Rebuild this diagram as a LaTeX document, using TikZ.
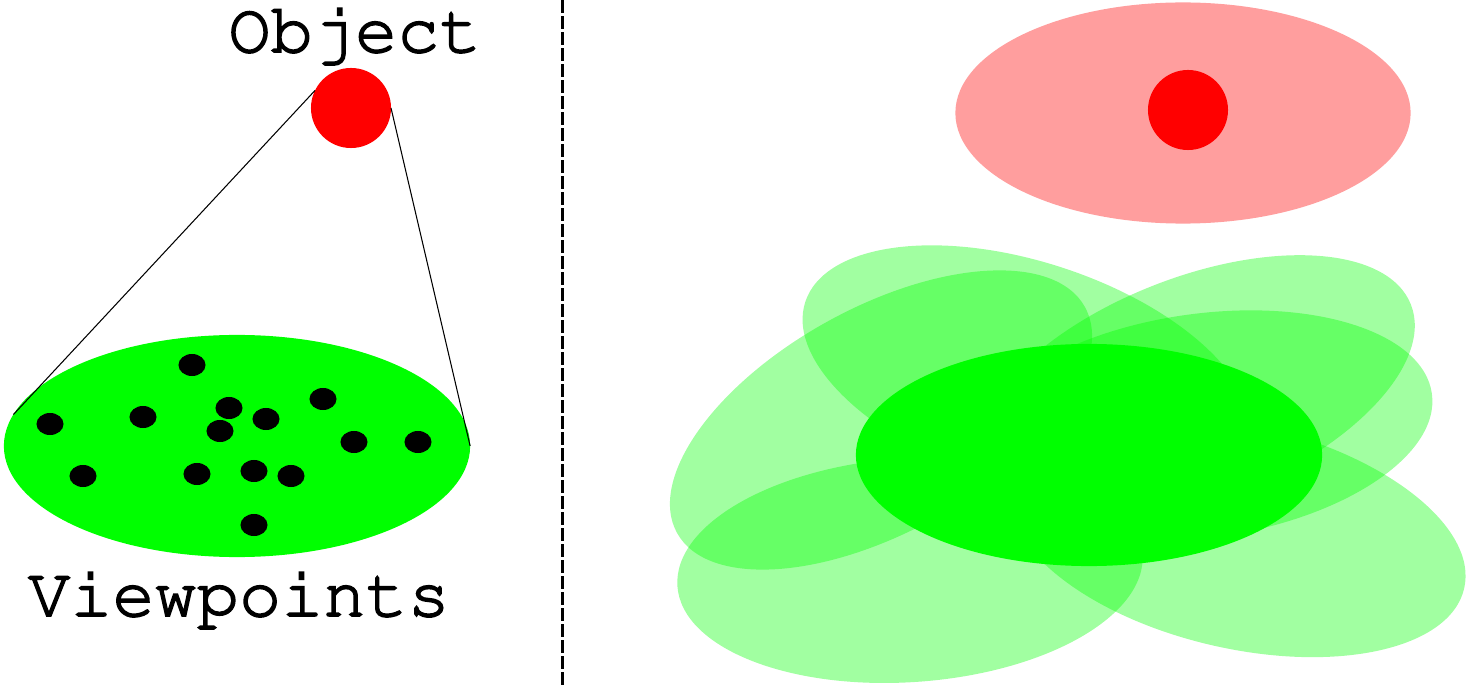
\documentclass[tikz,border=0pt]{standalone}
\usepackage[T1]{fontenc}
\renewcommand{\ttdefault}{pcr}
\usetikzlibrary{shapes.geometric}
\usetikzlibrary{positioning}

\newcommand{\heavy}[1]{\special{pdf:literal direct 2 Tr 0.45 w}#1\special{pdf:literal direct 0 Tr}}

\begin{document}
\begin{tikzpicture}[x=0.01cm,y=-0.01cm,
	blob/.style={ellipse,fill=green,inner sep=0pt,outer sep=0pt,
		minimum width=4.66cm,minimum height=2.22cm},
	spread/.style={blob,fill opacity=0.37,minimum height=2.24cm},
	obj/.style={circle,fill=red,inner sep=0pt,outer sep=0pt,minimum size=0.8cm},
	view/.style={ellipse,fill=black,inner sep=0pt,
		minimum width=0.27cm,minimum height=0.22cm},
	word/.style={font=\ttfamily\fontsize{20}{20}\selectfont,anchor=base,inner sep=0pt}]
	
	\useasboundingbox (0,0) rectangle (1469,688);
	
	\node[blob] (vp) at (237,446) {};
	\node[obj] (o) at (351,108) {};
	\node[word] (otext) at (355,52) {\heavy{Object}};
	\node[word] (vtext) at (239,616) {\heavy{Viewpoints}};
	\foreach \x/\y [count=\i] in {192/365,50/424,143/417,229/408,266/419,
		220/431,323/399,354/442,418/442,83/476,197/474,254/471,291/476,254/525}
		\node[view] (v\i) at (\x,\y) {};
	
	\path[draw,line width=0.3pt]
	(o.154) edge (vp.172)
	(o.east) edge (vp.east);
	
	\draw[line width=0.03cm,dash pattern=on 0.127cm off 0.033cm] (562,0) -- (562,688);
	
	\node[spread,rotate=29] (g1) at (881,420) {};
	\node[spread,rotate=-18] (g2) at (1027,374) {};
	\node[spread,rotate=21.5] (g3) at (1194,390) {};
	\node[spread,rotate=8] (g4) at (1201,426) {};
	\node[spread,rotate=-13] (g5) at (1237,536) {};
	\node[spread,rotate=4] (g6) at (910,570) {};
	\node[blob] (mean) at (1089,455) {};
	
	\node[blob,fill=red!38,minimum width=4.55cm,minimum height=2.21cm] (prior) at (1183,113) {};
	\node[obj] (o2) at (1188,110) {};
\end{tikzpicture}
\end{document}
